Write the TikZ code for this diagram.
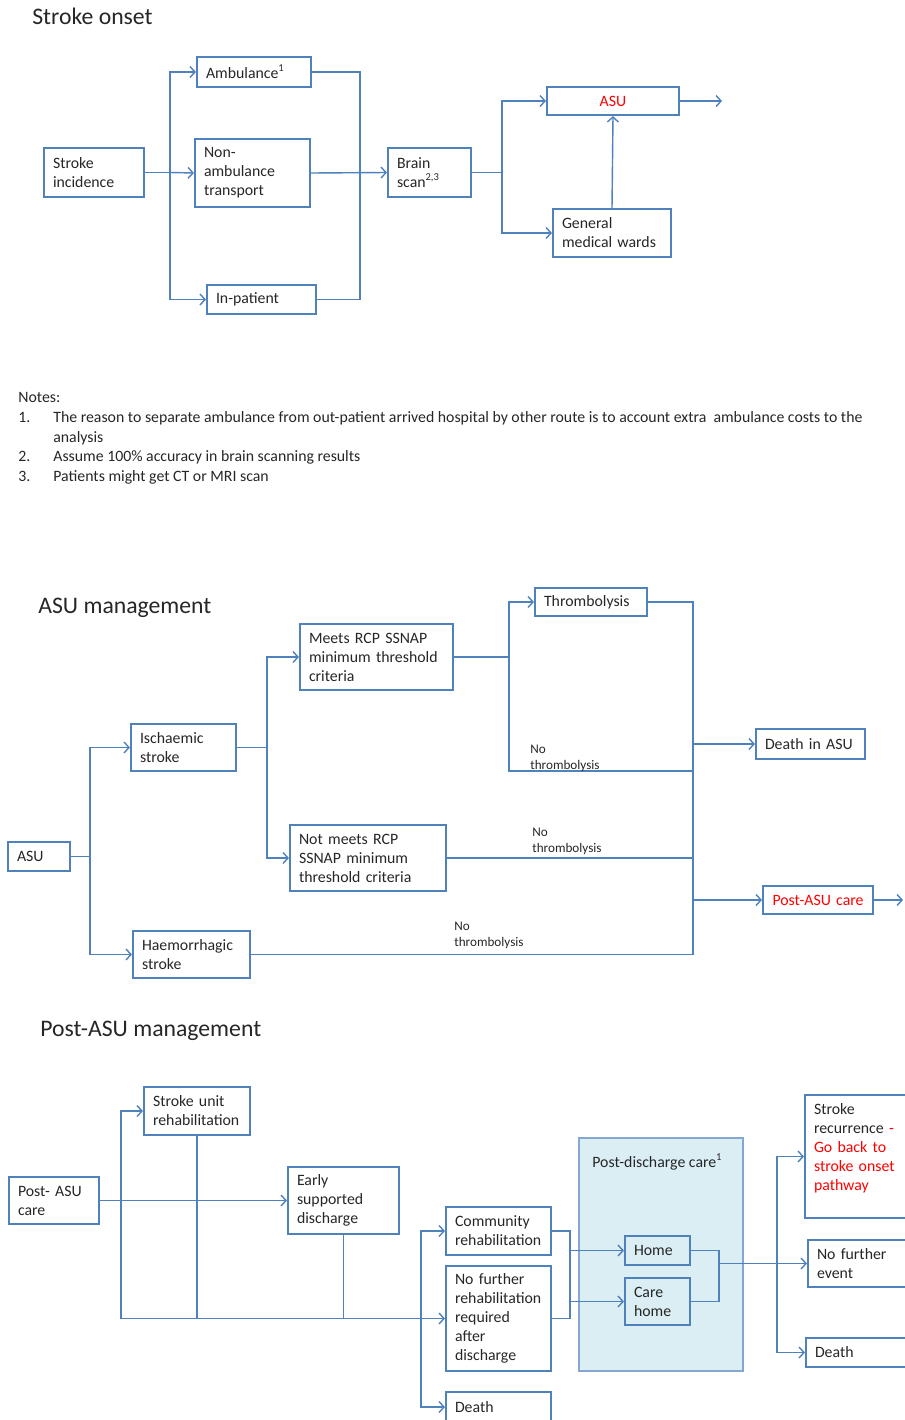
\documentclass[tikz,border=0pt]{standalone}
\usepackage{fontspec}
\setmainfont{Carlito}
\usetikzlibrary{arrows.meta}
\definecolor{lineblue}{RGB}{79,129,189}
\definecolor{panelblue}{RGB}{218,238,243}
\definecolor{alertred}{RGB}{255,0,0}
\begin{document}
\begin{tikzpicture}[
  x=0.02cm, y=-0.02cm,
  box/.style={draw=lineblue, line width=1.2pt, align=left, inner xsep=0.18cm,
    inner ysep=0pt, font=\fontsize{9}{10.8}\selectfont, text=black!85},
  link/.style={draw=lineblue, line width=0.8pt},
  arr/.style={link, -{Straight Barb[length=1mm,width=2.2mm]}},
  heading/.style={anchor=base west, inner sep=0, font=\fontsize{13.5}{16}\selectfont, text=black!85},
  note/.style={anchor=base west, inner sep=0, font=\fontsize{9}{10.8}\selectfont, text=black!85},
  branch/.style={anchor=west, inner sep=0, align=left, font=\fontsize{7.5}{9}\selectfont, text=black!85}
]
\useasboundingbox (0,0) rectangle (905,1420);

% Stroke onset
\node[heading] (title1) at (32,24) {Stroke onset};
\node[box, text width=1.64cm, minimum height=0.98cm] (incid) at (94,172.5) {Stroke\\incidence};
\node[box, text width=1.92cm, minimum height=0.60cm] (amb) at (254,72) {Ambulance\textsuperscript{1}};
\node[box, text width=1.94cm, minimum height=1.36cm] (nonamb) at (252.5,173) {Non-\\ambulance\\transport};
\node[box, text width=1.82cm, minimum height=0.58cm] (inpat) at (261.5,299.5) {In-patient};
\node[box, text width=1.30cm, minimum height=0.98cm] (brain) at (429.5,172.5) {Brain\\scan\textsuperscript{2,3}};
\node[box, text width=2.28cm, minimum height=0.56cm, align=center, text=alertred] (asu1) at (613,101) {ASU};
\node[box, text width=2.00cm, minimum height=0.96cm] (gmw) at (612,233) {General\\medical wards};
\coordinate (out1) at (722,101);

\draw[link] (incid.east) -- ++(25,0) coordinate (s1);
\draw[arr] (s1) |- (amb.west);
\draw[arr] (s1) -- (nonamb.west);
\draw[arr] (s1) |- (inpat.west);
\coordinate (j1) at (360,173);
\draw[link] (amb.east) -| (j1);
\draw[link] (inpat.east) -| (j1);
\draw[arr] (nonamb.east) -- (brain.west);
\draw[link] (brain.east) -- ++(30,0) coordinate (s2);
\draw[arr] (s2) |- (asu1.west);
\draw[arr] (s2) |- (gmw.west);
\draw[arr] (gmw.north) -- (asu1.south);
\draw[arr] (asu1.east) -- (out1);

% Notes
\node[note] (notes) at (18,402) {Notes:};
\node[note] (n1) at (18,422) {1.};
\node[note] (n1a) at (53,422) {The reason to separate ambulance from out-patient arrived hospital by other route is to account extra\ \ ambulance costs to the};
\node[note] (n1b) at (53,442) {analysis};
\node[note] (n2) at (18,461) {2.};
\node[note] (n2a) at (53,461) {Assume 100\% accuracy in brain scanning results};
\node[note] (n3) at (18,481) {3.};
\node[note] (n3a) at (53,481) {Patients might get CT or MRI scan};

% ASU management
\node[heading] (title2) at (38,613) {ASU management};
\node[box, text width=0.88cm, minimum height=0.58cm] (asu2) at (39,856.5) {ASU};
\node[box, text width=1.74cm, minimum height=0.94cm] (isch) at (183.5,747.5) {Ischaemic\\stroke};
\node[box, text width=1.98cm, minimum height=0.94cm] (haem) at (191.5,954.5) {Haemorrhagic\\stroke};
\node[box, text width=2.70cm, minimum height=1.32cm] (meets) at (376.5,657) {Meets RCP SSNAP\\minimum threshold\\criteria};
\node[box, text width=2.76cm, minimum height=1.32cm] (notmeets) at (368,858) {Not meets RCP\\SSNAP minimum\\threshold criteria};
\node[box, text width=1.88cm, minimum height=0.56cm] (thromb) at (591,602) {Thrombolysis};
\node[box, text width=1.82cm, minimum height=0.60cm] (death1) at (810.5,744) {Death in ASU};
\node[box, text width=1.84cm, minimum height=0.56cm, align=center, text=alertred] (postasu1) at (818,900) {Post-ASU care};
\coordinate (out2) at (903,900);
\coordinate (ctop) at (693,602);
\coordinate (cbot) at (ctop |- haem.east);
\coordinate (m1) at (693,771);

\draw[link] (asu2.east) -- ++(19,0) coordinate (s3);
\draw[arr] (s3) |- (isch.west);
\draw[arr] (s3) |- (haem.west);
\draw[link] (isch.east) -- ++(30,0) coordinate (s4);
\draw[arr] (s4) |- (meets.west);
\draw[arr] (s4) |- (notmeets.west);
\draw[link] (meets.east) -- ++(55,0) coordinate (s5);
\draw[arr] (s5) |- (thromb.west);
\draw[link] (s5) |- (m1);
\draw[link] (thromb.east) -- (ctop) -- (cbot);
\draw[link] (notmeets.east) -- (notmeets.east -| ctop);
\draw[link] (haem.east) -- (cbot);
\draw[arr] (ctop |- death1.west) -- (death1.west);
\draw[arr] (ctop |- postasu1.west) -- (postasu1.west);
\draw[arr] (postasu1.east) -- (out2);
\node[branch] (nothromb1) at (530,758) {No\\thrombolysis};
\node[branch] (nothromb2) at (532,841) {No\\thrombolysis};
\node[branch] (nothromb3) at (454,935) {No\\thrombolysis};

% Post-ASU management
\node[heading] (title3) at (40,1036) {Post-ASU management};
\node[draw=lineblue!70, fill=panelblue, line width=1pt, minimum width=3.28cm, minimum height=4.66cm] (pdc) at (661,1254.5) {};
\node[note] (pdctitle) at (592,1167) {Post-discharge care\textsuperscript{1}};
\node[box, text width=1.44cm, minimum height=0.94cm] (postasu2) at (54,1200.5) {Post- ASU\\care};
\node[box, text width=1.76cm, minimum height=0.96cm] (sur) at (197,1111) {Stroke unit\\rehabilitation};
\node[box, text width=1.86cm, minimum height=1.34cm] (esd) at (343.5,1200.5) {Early\\supported\\discharge};
\node[box, text width=1.74cm, minimum height=0.96cm] (comm) at (498.5,1231) {Community\\rehabilitation};
\node[box, text width=1.74cm, minimum height=2.10cm] (nofurther) at (498.5,1318.5) {No further\\rehabilitation\\required\\after\\discharge};
\node[box, text width=1.74cm, minimum height=0.60cm] (death2) at (498.5,1407) {Death};
\node[box, text width=0.94cm, minimum height=0.58cm] (home) at (657.5,1250.5) {Home};
\node[box, text width=0.94cm, minimum height=0.94cm] (carehome) at (657.5,1301.5) {Care\\home};
\node[box, text width=1.94cm, minimum height=2.46cm] (recur) at (862.5,1156.5) {Stroke\\recurrence {\color{alertred}-}\\\color{alertred}Go back to\\stroke onset\\pathway\\\mbox{}};
\node[box, text width=1.88cm, minimum height=0.94cm] (nofev) at (864,1263.5) {No further\\event};
\node[box, text width=1.92cm, minimum height=0.58cm] (death3) at (863,1352.5) {Death};
\coordinate (r1) at (121,1318.5);
\coordinate (r2) at (421,1318.5);
\coordinate (r3) at (570,1318.5);
\coordinate (r4) at (719,1263.5);
\coordinate (r5) at (777,1263.5);

\draw[arr] (postasu2.east) -- (esd.west);
\draw[arr] (r1) |- (sur.west);
\draw[arr] (r1) -- (nofurther.west);
\draw[link] (sur.south) -- (sur.south |- r1);
\draw[link] (esd.south) -- (esd.south |- r1);
\draw[arr] (r2) |- (comm.west);
\draw[arr] (r2) |- (death2.west);
\draw[link] (comm.east) -| (r3) -- (nofurther.east);
\draw[arr] (r3 |- home.west) -- (home.west);
\draw[arr] (r3 |- carehome.west) -- (carehome.west);
\draw[link] (home.east) -| (r4 |- carehome.east) -- (carehome.east);
\draw[arr] (r4) -- (nofev.west);
\draw[arr] (r5) |- (recur.west);
\draw[arr] (r5) |- (death3.west);
\end{tikzpicture}
\end{document}
